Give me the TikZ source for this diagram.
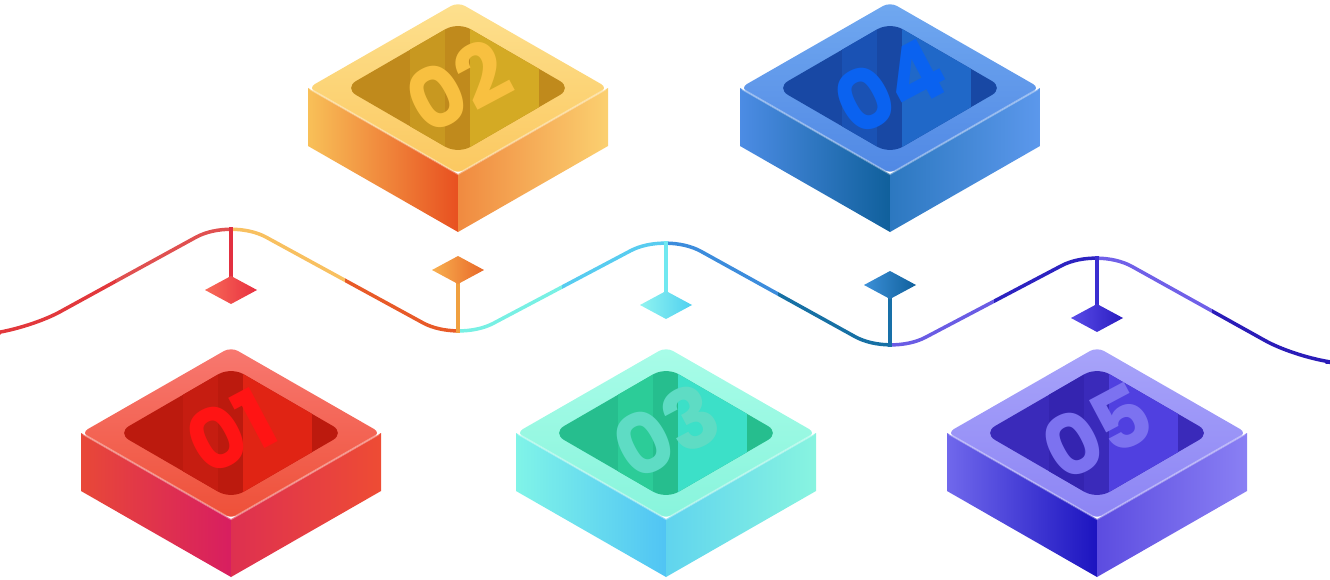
\documentclass[tikz,border=0pt]{standalone}
\usepackage{fontspec}
\setmainfont{Poppins}
\newfontfamily\numfont{Poppins Bold}
\begin{document}
\begin{tikzpicture}[x=1pt,y=-1pt]
\useasboundingbox (0,0) rectangle (1330,580);
\definecolor{aRt}{HTML}{F87870}\definecolor{aRb}{HTML}{EE5038}\definecolor{aIn}{HTML}{BC1A0E}\definecolor{aBm}{HTML}{C61D11}\definecolor{aBb}{HTML}{E02414}\definecolor{aL1}{HTML}{E84838}\definecolor{aL2}{HTML}{D81E60}\definecolor{aR1}{HTML}{EE4C34}\definecolor{aR2}{HTML}{DE3050}\definecolor{aN}{HTML}{FF1414}
\definecolor{bRt}{HTML}{FDE08E}\definecolor{bRb}{HTML}{FBC860}\definecolor{bIn}{HTML}{C08A1C}\definecolor{bBm}{HTML}{C89820}\definecolor{bBb}{HTML}{D4AA24}\definecolor{bL1}{HTML}{F8C058}\definecolor{bL2}{HTML}{E85020}\definecolor{bR1}{HTML}{FBD070}\definecolor{bR2}{HTML}{F08A40}\definecolor{bN}{HTML}{F8C040}
\definecolor{cRt}{HTML}{A8FCE8}\definecolor{cRb}{HTML}{88F4DC}\definecolor{cIn}{HTML}{26BE8E}\definecolor{cBm}{HTML}{2CCC98}\definecolor{cBb}{HTML}{3CE0C8}\definecolor{cL1}{HTML}{80F4E8}\definecolor{cL2}{HTML}{50C4F4}\definecolor{cR1}{HTML}{88F4E0}\definecolor{cR2}{HTML}{60D4EE}\definecolor{cN}{HTML}{5EDCC4}
\definecolor{dRt}{HTML}{70A8F0}\definecolor{dRb}{HTML}{5088E4}\definecolor{dIn}{HTML}{1848A4}\definecolor{dBm}{HTML}{1A52B4}\definecolor{dBb}{HTML}{2068C8}\definecolor{dL1}{HTML}{4C8CE4}\definecolor{dL2}{HTML}{10609C}\definecolor{dR1}{HTML}{5C98EC}\definecolor{dR2}{HTML}{2C78C0}\definecolor{dN}{HTML}{0A62F0}
\definecolor{eRt}{HTML}{A8A4FA}\definecolor{eRb}{HTML}{8C84F4}\definecolor{eIn}{HTML}{3A2ABA}\definecolor{eBm}{HTML}{3424B0}\definecolor{eBb}{HTML}{5040E0}\definecolor{eL1}{HTML}{7068EC}\definecolor{eL2}{HTML}{1C14C0}\definecolor{eR1}{HTML}{8A80F4}\definecolor{eR2}{HTML}{5C4CE0}\definecolor{eN}{HTML}{7C72F0}
\newcommand\isobox[4]{%
 \begin{scope}[shift={(#1,#2)}]
  \shade[left color=#3L1,right color=#3L2] (-150,86) -- (0,172) -- (0,230) -- (-150,144) -- cycle;
  \shade[left color=#3R2,right color=#3R1] (150,86) -- (0,172) -- (0,230) -- (150,144) -- cycle;
  \shade[top color=#3Rt,bottom color=#3Rb,rounded corners=8] (0,0) -- (150,86) -- (0,172) -- (-150,86) -- cycle;
  \draw[white,opacity=0.35,line width=2] (-148,87) -- (0,172) -- (148,87);
  \begin{scope}
   \clip[rounded corners=14] (0,20) -- (114,86) -- (0,152) -- (-114,86) -- cycle;
   \fill[#3In] (-120,0) rectangle (120,172);
   \fill[#3Bm] (-48,0) rectangle (-13,172);
   \fill[#3Bb] (12,0) rectangle (81,172);
  \end{scope}
  \node[font=\numfont\fontsize{84}{84}\selectfont,text=#3N,inner sep=0,rotate=28] (n#3) at (0,84) {#4};
 \end{scope}}
\isobox{231}{347}{a}{01}
\isobox{458}{2}{b}{02}
\isobox{666}{347}{c}{03}
\isobox{890}{2}{d}{04}
\isobox{1097}{347}{e}{05}
\def\wave{(0,333) -- (25,331) -- (231,218) -- (458,342) -- (666,232) -- (890,356) -- (1097,247) -- (1300,360) -- (1326,362)}
\foreach \xa/\xb/\col in {0/116/E2383C, 116/231/E05050, 231/345/F8C060, 345/458/E85A28, 458/562/78F0E4, 562/666/58CCF0, 666/778/3C8CDC, 778/890/1670A4, 890/994/6A5CE4, 994/1097/2C22C0, 1097/1212/7060E8, 1212/1330/2A1CB8}{
 \definecolor{tmp}{HTML}{\col}
 \begin{scope}\clip (\xa,150) rectangle (\xb,400);
 \draw[tmp,line width=3.5,rounded corners=40,line cap=round] \wave;\end{scope}}
\tikzset{marker/.style={line width=3.5}}
\coordinate (p1) at (231,227);\coordinate (p2) at (458,333);\coordinate (p3) at (666,241);\coordinate (p4) at (890,347);\coordinate (p5) at (1097,256);
\definecolor{m1}{HTML}{E23040}\definecolor{m2}{HTML}{F0A040}\definecolor{m3}{HTML}{70E8F0}\definecolor{m4}{HTML}{1870A8}\definecolor{m5}{HTML}{3A2ED0}
\coordinate (q1) at (231,278);\coordinate (q2) at (458,283);\coordinate (q3) at (666,292);\coordinate (q4) at (890,298);\coordinate (q5) at (1097,306);
\draw[marker,m1] (p1) -- (q1);\draw[marker,m2] (p2) -- (q2);\draw[marker,m3] (p3) -- (q3);\draw[marker,m4] (p4) -- (q4);\draw[marker,m5] (p5) -- (q5);
\definecolor{k1a}{HTML}{F86A58}\definecolor{k1b}{HTML}{E83040}
\definecolor{k2a}{HTML}{F8B050}\definecolor{k2b}{HTML}{E86828}
\definecolor{k3a}{HTML}{90F4F0}\definecolor{k3b}{HTML}{50D0F0}
\definecolor{k4a}{HTML}{3C90D8}\definecolor{k4b}{HTML}{10609C}
\definecolor{k5a}{HTML}{5A4CE8}\definecolor{k5b}{HTML}{2A1CC0}
\shade[left color=k1a,right color=k1b] (205,290) -- (231,276) -- (257,290) -- (231,304) -- cycle;
\shade[left color=k2a,right color=k2b] (432,270) -- (458,256) -- (484,270) -- (458,284) -- cycle;
\shade[left color=k3a,right color=k3b] (640,305) -- (666,291) -- (692,305) -- (666,319) -- cycle;
\shade[left color=k4a,right color=k4b] (864,285) -- (890,271) -- (916,285) -- (890,299) -- cycle;
\shade[left color=k5a,right color=k5b] (1071,318) -- (1097,304) -- (1123,318) -- (1097,332) -- cycle;
\end{tikzpicture}
\end{document}
